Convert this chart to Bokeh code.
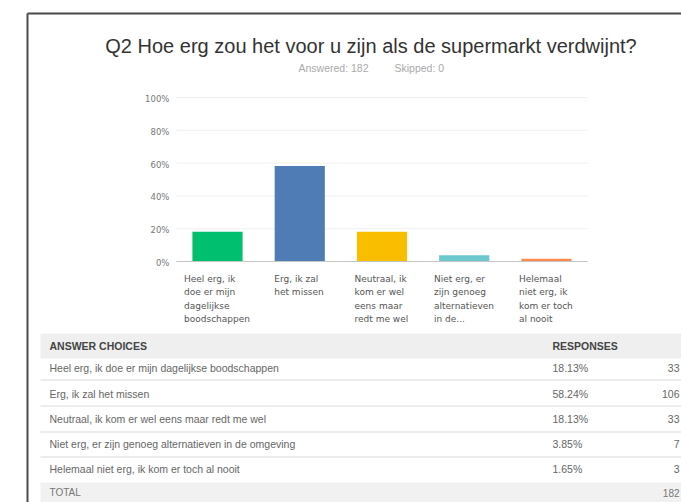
from bokeh.plotting import figure
from bokeh.models import Range1d
from bokeh.core.properties import value
from bokeh.embed import file_html
from bokeh.resources import INLINE

# ---------------- data ----------------
title_text = "Q2 Hoe erg zou het voor u zijn als de supermarkt verdwijnt?"
answered_text = "Answered: 182"
skipped_text = "Skipped: 0"
answer_choices = [
    "Heel erg, ik doe er mijn dagelijkse boodschappen",
    "Erg, ik zal het missen",
    "Neutraal, ik kom er wel eens maar redt me wel",
    "Niet erg, er zijn genoeg alternatieven in de omgeving",
    "Helemaal niet erg, ik kom er toch al nooit",
]
axis_labels = [
    ["Heel erg, ik", "doe er mijn", "dagelijkse", "boodschappen"],
    ["Erg, ik zal", "het missen"],
    ["Neutraal, ik", "kom er wel", "eens maar", "redt me wel"],
    ["Niet erg, er", "zijn genoeg", "alternatieven", "in de..."],
    ["Helemaal", "niet erg, ik", "kom er toch", "al nooit"],
]
percentages = [18.13, 58.24, 18.13, 3.85, 1.65]
counts = [33, 106, 33, 7, 3]
total_count = 182
bar_colors = ["#00BF6F", "#507CB6", "#F9BE00", "#6BC8CD", "#FF8B4F"]
y_ticks = [0, 20, 40, 60, 80, 100]
y_tick_labels = ["0%", "20%", "40%", "60%", "80%", "100%"]
header_left = "ANSWER CHOICES"
header_right = "RESPONSES"
total_label = "TOTAL"

# ---------------- layout (page pixel coordinates) ----------------
W, H = 681, 502
PX0, PY0 = 0, 0
cat0_x, cat_step = 217.0, 82.25      # page x of first category, spacing
zero_y, px_per_pct = 261.0, 1.64     # page y of 0 %, pixels per percent

p = figure(width=W, height=H,
           x_range=Range1d(PX0, PX0 + W), y_range=Range1d(PY0 + H, PY0),
           min_border=0, x_axis_location=None, y_axis_location=None,
           toolbar_location=None, output_backend="svg",
           outline_line_color=None, background_fill_color="white",
           border_fill_color="white")
p.grid.visible = False

p.extra_x_ranges = {"idx": Range1d((PX0 - cat0_x) / cat_step, (PX0 + W - cat0_x) / cat_step)}
p.extra_y_ranges = {"pct": Range1d((zero_y - (PY0 + H)) / px_per_pct, (zero_y - PY0) / px_per_pct)}

FONT_CHART = value("DejaVu Sans")
FONT = value("Liberation Sans")

# outer frame border
p.segment(x0=[27, 27], y0=[13, 13], x1=[PX0 + W, 27], y1=[13, PY0 + H],
          line_color="#4a4a4a", line_width=2)

# title & subtitle
p.text(x=[370.5], y=[45], text=[title_text], text_font=FONT, text_font_size="20px",
       text_color="#333333", text_align="center", text_baseline="alphabetic")
p.text(x=[298], y=[67], text=[answered_text], text_font=FONT, text_font_size="10.5px",
       text_color="#aaaaaa", text_align="left", text_baseline="middle")
p.text(x=[394], y=[67], text=[skipped_text], text_font=FONT, text_font_size="10.5px",
       text_color="#aaaaaa", text_align="left", text_baseline="middle")

n = len(percentages)
idx = list(range(n))

# gridlines
grid_vals = [t for t in y_ticks if t > 0]
p.segment(x0=[-0.5] * len(grid_vals), x1=[n - 0.5] * len(grid_vals), y0=grid_vals, y1=grid_vals,
          line_color="#f0f0f0", line_width=1, x_range_name="idx", y_range_name="pct")

# bars
p.vbar(x=idx, top=percentages, bottom=0, width=0.61, fill_color=bar_colors,
       line_color=None, x_range_name="idx", y_range_name="pct")

# baseline
p.segment(x0=[-0.5], x1=[n - 0.5], y0=[0], y1=[0], line_color="#c4c4c4", line_width=1,
          x_range_name="idx", y_range_name="pct")

# y tick labels
p.text(x=[-0.5] * len(y_ticks), y=y_ticks, text=y_tick_labels, x_offset=-7, y_offset=1.5,
       text_font=FONT_CHART, text_font_size="8.5px", text_color="#777777",
       text_align="right", text_baseline="middle", x_range_name="idx", y_range_name="pct")


def est_width(s, size):
    w = 0.0
    for ch in s:
        if ch in "il.,:;'|!j":
            w += 0.28
        elif ch == " ":
            w += 0.32
        elif ch in "tfr":
            w += 0.40
        elif ch in "mw":
            w += 0.95
        else:
            w += 0.62
    return w * size


# x category labels (left aligned block centred under bar)
for i, lines in enumerate(axis_labels):
    block = max(est_width(s, 9) for s in lines)
    for j, s in enumerate(lines):
        p.text(x=[i], y=[0], text=[s], x_offset=-block / 2, y_offset=17 + 13.5 * j,
               text_font=FONT_CHART, text_font_size="9px", text_color="#555555",
               text_align="left", text_baseline="middle",
               x_range_name="idx", y_range_name="pct")

# ---------------- table ----------------
p.quad(left=[40], right=[PX0 + W], top=[333], bottom=[358], fill_color="#efefef", line_color=None)
p.quad(left=[40], right=[PX0 + W], top=[482], bottom=[PY0 + H], fill_color="#f1f1f1", line_color=None)

sep_y = [379.5, 405.5, 431.5, 456.5]
p.segment(x0=[40] * len(sep_y), x1=[PX0 + W] * len(sep_y), y0=sep_y, y1=sep_y,
          line_color="#d9d9d9", line_width=1)

p.text(x=[49], y=[345], text=[header_left], text_font=FONT, text_font_size="10.5px",
       text_font_style="bold", text_color="#444444", text_baseline="middle")
p.text(x=[552], y=[345], text=[header_right], text_font=FONT, text_font_size="10.5px",
       text_font_style="bold", text_color="#444444", text_baseline="middle")

row_y = [367, 393, 418, 443, 468]
p.text(x=[49] * n, y=row_y, text=answer_choices, text_font=FONT, text_font_size="10.5px",
       text_color="#666666", text_baseline="middle")
p.text(x=[552] * n, y=row_y, text=[f"{v:.2f}%" for v in percentages], text_font=FONT,
       text_font_size="10.5px", text_color="#666666", text_baseline="middle")
p.text(x=[679] * n, y=row_y, text=[str(c) for c in counts], text_font=FONT,
       text_font_size="10.5px", text_color="#666666", text_align="right", text_baseline="middle")
p.text(x=[49], y=[492], text=[total_label], text_font=FONT, text_font_size="10px",
       text_color="#777777", text_baseline="middle")
p.text(x=[679], y=[492], text=[str(total_count)], text_font=FONT, text_font_size="10px",
       text_color="#777777", text_align="right", text_baseline="middle")

open("out.html", "w").write(file_html(p, INLINE))
